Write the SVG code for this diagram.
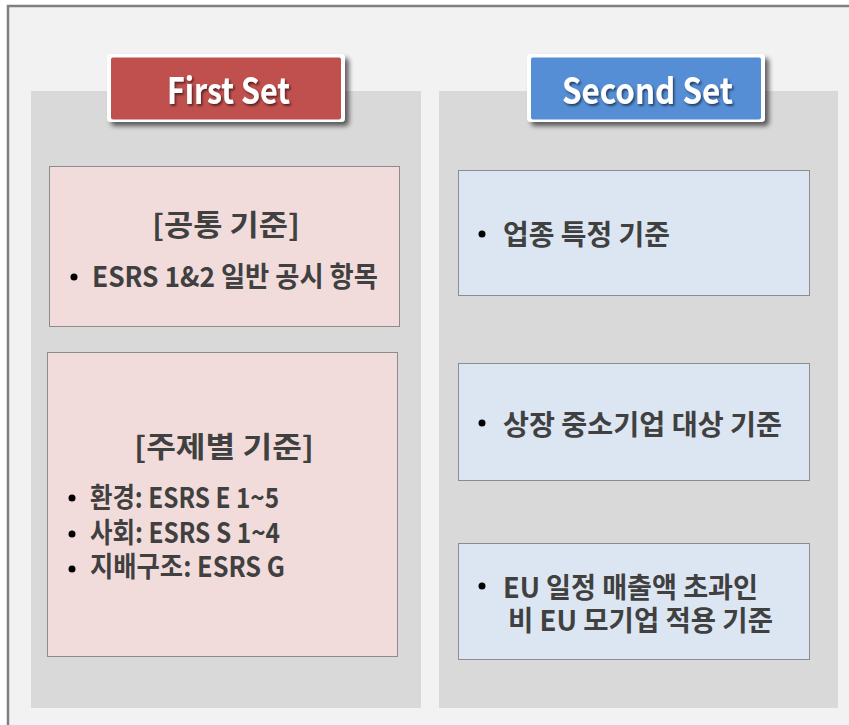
<svg xmlns="http://www.w3.org/2000/svg" width="849" height="725" viewBox="0 0 849 725">
<defs>
<style>
.frame{fill:#f2f2f2;stroke:#808080;stroke-width:2.5}
.panel{fill:#d9d9d9}
.pink{fill:#f2dcdb;stroke:#8c8c8c;stroke-width:1}
.blue{fill:#dce6f2;stroke:#8c8c8c;stroke-width:1}
.t{font-family:"Noto Sans CJK KR","Malgun Gothic",sans-serif;font-weight:700;fill:#404040}
.title{font-size:29px}
.item{font-size:28px}
.hd{font-family:"Noto Sans CJK KR","Malgun Gothic",sans-serif;font-weight:700;font-size:36px;fill:#ffffff}
.dot{fill:#000000}
</style>
<filter id="shadow" x="-10%" y="-20%" width="130%" height="160%">
<feGaussianBlur in="SourceAlpha" stdDeviation="2.5"/>
<feOffset dx="4" dy="4" result="b"/>
<feComponentTransfer><feFuncA type="linear" slope="0.6"/></feComponentTransfer>
<feMerge><feMergeNode/><feMergeNode in="SourceGraphic"/></feMerge>
</filter>
<filter id="tshadow" x="-10%" y="-20%" width="130%" height="160%">
<feDropShadow dx="1.5" dy="2" stdDeviation="1" flood-color="#000" flood-opacity="0.55"/>
</filter>
</defs>
<rect class="frame" x="8" y="6" width="860" height="740"/>
<rect class="panel" x="31" y="91" width="390" height="617"/>
<rect class="panel" x="439" y="91" width="399" height="617"/>

<g id="first-set">
<rect x="107" y="54" width="238" height="68" rx="4" fill="#ffffff" filter="url(#shadow)"/>
<rect x="111" y="57.5" width="230" height="62" rx="2" fill="#c0504d"/>
<text class="hd" x="167" y="103.5" textLength="123" lengthAdjust="spacingAndGlyphs" filter="url(#tshadow)">First Set</text>
</g>

<g id="second-set">
<rect x="527" y="54" width="238" height="68" rx="4" fill="#ffffff" filter="url(#shadow)"/>
<rect x="531" y="57.5" width="230" height="62" rx="2" fill="#558ed5"/>
<text class="hd" x="562" y="103.5" textLength="171" lengthAdjust="spacingAndGlyphs" filter="url(#tshadow)">Second Set</text>
</g>

<g id="common">
<rect class="pink" x="49.5" y="166.5" width="350" height="160"/>
<text class="t title" x="152" y="236" textLength="148" lengthAdjust="spacingAndGlyphs">[공통 기준]</text>
<circle class="dot" cx="74" cy="277" r="3.5"/>
<text class="t item" x="92" y="287" textLength="286" lengthAdjust="spacingAndGlyphs">ESRS 1&amp;2 일반 공시 항목</text>
</g>

<g id="topical">
<rect class="pink" x="47.5" y="352.5" width="350" height="304"/>
<text class="t title" x="134" y="458" textLength="180" lengthAdjust="spacingAndGlyphs">[주제별 기준]</text>
<circle class="dot" cx="72" cy="498" r="3.5"/>
<text class="t item" x="90" y="508" textLength="189" lengthAdjust="spacingAndGlyphs">환경: ESRS E 1~5</text>
<circle class="dot" cx="72" cy="534" r="3.5"/>
<text class="t item" x="90" y="543" textLength="190" lengthAdjust="spacingAndGlyphs">사회: ESRS S 1~4</text>
<circle class="dot" cx="72" cy="569" r="3.5"/>
<text class="t item" x="90" y="577" textLength="195" lengthAdjust="spacingAndGlyphs">지배구조: ESRS G</text>
</g>

<g id="sector">
<rect class="blue" x="458.5" y="170.5" width="351" height="125"/>
<circle class="dot" cx="482" cy="234" r="3.5"/>
<text class="t item" x="503" y="245" textLength="167" lengthAdjust="spacingAndGlyphs">업종 특정 기준</text>
</g>

<g id="sme">
<rect class="blue" x="458.5" y="363.5" width="351" height="117"/>
<circle class="dot" cx="482" cy="423" r="3.5"/>
<text class="t item" x="503" y="435" textLength="279" lengthAdjust="spacingAndGlyphs">상장 중소기업 대상 기준</text>
</g>

<g id="non-eu">
<rect class="blue" x="458.5" y="543.5" width="351" height="116"/>
<circle class="dot" cx="482" cy="586" r="3.5"/>
<text class="t item" x="503" y="598" textLength="255" lengthAdjust="spacingAndGlyphs">EU 일정 매출액 초과인</text>
<text class="t item" x="508" y="631" textLength="265" lengthAdjust="spacingAndGlyphs">비 EU 모기업 적용 기준</text>
</g>

<g id="connectors"></g>
</svg>
